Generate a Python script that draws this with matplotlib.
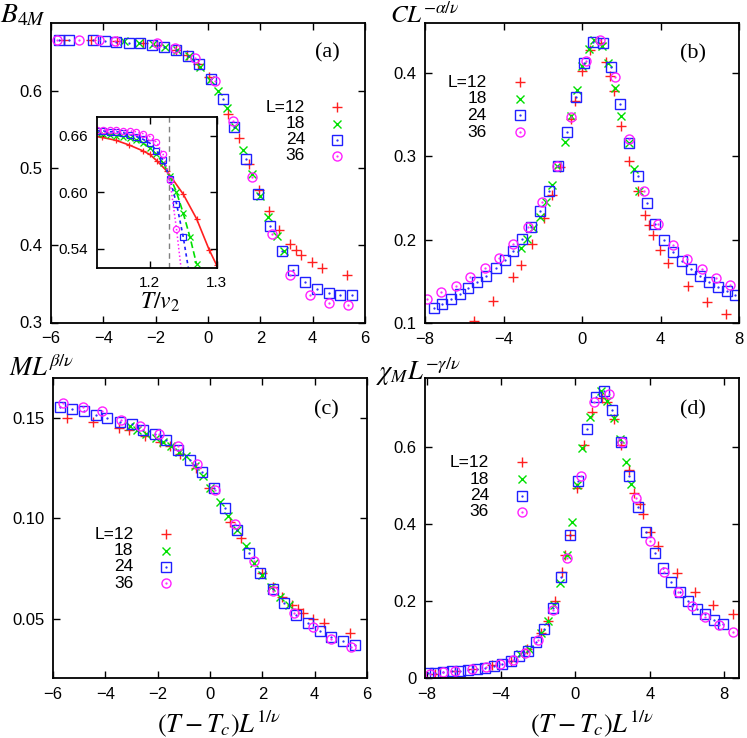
import matplotlib
matplotlib.use('Agg')
import matplotlib.pyplot as plt

plt.rcParams['mathtext.fontset'] = 'stix'
plt.rcParams['font.family'] = ['Liberation Sans', 'DejaVu Sans']

sizes = ['L=12', '18', '24', '36']
colors = ['#ff2020', '#00e000', '#2020ff', '#ff20ff']
markers = ['+', 'x', 's', 'o']
msizes = [7, 6, 7, 6.5]

# ---- panel (a): Binder cumulant vs scaled T
a12_x = [-5.50, -4.49, -3.47, -2.50, -1.94, -1.24, -0.80, -0.40, 0.02, 0.78, 1.19, 1.57, 1.96,
         2.33, 2.72, 3.13, 3.35, 3.55, 3.96, 4.34, 5.31]
a12_y = [0.665, 0.665, 0.664, 0.661, 0.659, 0.653, 0.646, 0.634, 0.618, 0.570, 0.539, 0.505, 0.472,
         0.444, 0.420, 0.402, 0.394, 0.387, 0.378, 0.371, 0.362]
a18_x = [-3.20, -2.65, -2.10, -1.63, -1.20, -0.74, -0.30, 0.08, 0.40, 0.72, 1.04, 1.35, 1.67,
         1.97, 2.29, 2.62, 2.92]
a18_y = [0.664, 0.662, 0.660, 0.656, 0.652, 0.645, 0.631, 0.614, 0.600, 0.577, 0.553, 0.523, 0.492,
         0.464, 0.436, 0.412, 0.393]
a24_x = [-5.70, -5.31, -4.40, -3.94, -3.51, -3.03, -2.58, -2.14, -1.70, -1.23, -0.77, -0.34, 0.10,
         0.56, 1.01, 1.47, 1.92, 2.37, 2.81, 3.26, 3.70, 4.17, 4.62, 5.06, 5.52]
a24_y = [0.665, 0.665, 0.665, 0.664, 0.663, 0.662, 0.661, 0.659, 0.656, 0.653, 0.645, 0.634, 0.615,
         0.589, 0.553, 0.511, 0.466, 0.425, 0.392, 0.368, 0.352, 0.343, 0.338, 0.336, 0.336]
a36_x = [-5.76, -4.93, -4.17, -3.54, -1.95, -1.25, -0.49, 0.25, 0.97, 1.67, 2.43, 3.15, 3.89,
         4.62, 5.35]
a36_y = [0.666, 0.665, 0.665, 0.664, 0.661, 0.655, 0.642, 0.612, 0.560, 0.488, 0.414, 0.361, 0.335,
         0.325, 0.322]

# inset of (a): B_4M vs T/v2
in12_t = [1.11, 1.129, 1.149, 1.169, 1.189, 1.200, 1.211, 1.226, 1.250, 1.270, 1.289, 1.300]
in12_b = [0.660, 0.658, 0.655, 0.650, 0.644, 0.640, 0.633, 0.622, 0.598, 0.572, 0.539, 0.523]
in18_t = [1.12, 1.13, 1.14, 1.15, 1.16, 1.17, 1.18, 1.19, 1.20, 1.21, 1.22, 1.23, 1.24, 1.25, 1.26, 1.27]
in18_b = [0.663, 0.662, 0.661, 0.660, 0.659, 0.657, 0.655, 0.652, 0.647, 0.640, 0.631, 0.617, 0.600,
          0.578, 0.553, 0.524]
in24_t = [1.12, 1.13, 1.14, 1.15, 1.16, 1.17, 1.18, 1.19, 1.20, 1.21, 1.22, 1.23, 1.24, 1.25, 1.26]
in24_b = [0.665, 0.665, 0.664, 0.664, 0.663, 0.661, 0.659, 0.656, 0.652, 0.644, 0.634, 0.614, 0.588,
          0.553, 0.510]
in36_t = [1.12, 1.13, 1.14, 1.15, 1.16, 1.17, 1.18, 1.19, 1.20, 1.21, 1.22, 1.23, 1.24, 1.25]
in36_b = [0.666, 0.666, 0.666, 0.666, 0.665, 0.665, 0.664, 0.662, 0.659, 0.653, 0.640, 0.613, 0.561,
          0.500]
Tc_v2 = 1.229

# ---- panel (b): specific heat
b12_x = [-5.50, -4.52, -3.51, -3.12, -2.56, -1.93, -1.54, -1.11, -0.57, -0.35, 0.02, 0.42, 0.96,
         1.22, 1.42, 1.61, 2.01, 2.41, 2.83, 3.21, 3.39, 3.60, 3.99, 4.38, 5.38, 6.35, 7.34]
b12_y = [0.103, 0.127, 0.156, 0.170, 0.195, 0.226, 0.254, 0.287, 0.345, 0.366, 0.403, 0.428, 0.436,
         0.413, 0.396, 0.378, 0.336, 0.295, 0.259, 0.230, 0.218, 0.206, 0.188, 0.172, 0.145, 0.125, 0.111]
b18_x = [-3.12, -2.78, -2.48, -2.15, -1.81, -1.51, -1.25, -0.87, -0.57, -0.23, 0.02, 0.37, 0.62,
         1.01, 1.35, 1.68, 1.98, 2.37, 2.66, 2.92]
b18_y = [0.190, 0.201, 0.214, 0.228, 0.245, 0.266, 0.289, 0.317, 0.348, 0.380, 0.409, 0.429, 0.440,
         0.433, 0.412, 0.382, 0.349, 0.316, 0.285, 0.259]
b24_x = [-7.54, -7.12, -6.66, -6.23, -5.79, -5.33, -4.87, -4.40, -3.94, -3.50, -3.04, -2.58, -2.13,
         -1.68, -1.23, -0.77, -0.31, 0.11, 0.57, 1.05, 1.50, 1.95, 2.41, 2.85, 3.29, 3.73, 4.19, 4.65,
         5.09, 5.55, 6.01, 6.45, 6.91, 7.37, 7.81]
b24_y = [0.118, 0.123, 0.129, 0.135, 0.142, 0.149, 0.157, 0.166, 0.176, 0.187, 0.201, 0.216, 0.235,
         0.259, 0.289, 0.329, 0.371, 0.412, 0.437, 0.436, 0.407, 0.363, 0.316, 0.276, 0.244, 0.219,
         0.200, 0.186, 0.175, 0.165, 0.157, 0.150, 0.144, 0.139, 0.134]
b36_x = [-7.88, -7.20, -6.44, -5.71, -4.96, -4.23, -3.50, -2.75, -2.02, -1.28, -0.54, 0.20, 0.93,
         1.69, 2.42, 3.15, 3.89, 4.62, 5.35, 6.10, 6.83, 7.56]
b36_y = [0.129, 0.137, 0.145, 0.155, 0.166, 0.178, 0.195, 0.216, 0.245, 0.288, 0.347, 0.414, 0.440,
         0.395, 0.321, 0.259, 0.219, 0.194, 0.177, 0.165, 0.154, 0.146]

# ---- panel (c): magnetisation
c12_x = [-5.48, -4.49, -3.49, -3.09, -2.50, -1.92, -1.54, -1.16, -0.53, -0.05, 0.78, 1.19, 1.97,
         2.39, 2.77, 3.15, 3.38, 3.56, 3.95, 4.34, 5.34]
c12_y = [0.150, 0.148, 0.145, 0.144, 0.141, 0.138, 0.136, 0.132, 0.125, 0.115, 0.098, 0.090, 0.073,
         0.066, 0.061, 0.057, 0.055, 0.053, 0.050, 0.048, 0.043]
c18_x = [-3.07, -2.79, -2.43, -2.08, -1.80, -1.48, -1.19, -0.91, -0.56, -0.25, 0.01, 0.40, 0.70,
         1.05, 1.38, 1.70, 2.00, 2.33, 2.69, 3.00]
c18_y = [0.146, 0.144, 0.142, 0.140, 0.138, 0.136, 0.133, 0.131, 0.126, 0.121, 0.115, 0.108, 0.101,
         0.094, 0.086, 0.078, 0.072, 0.066, 0.061, 0.057]
c24_x = [-5.73, -5.29, -4.82, -4.36, -3.92, -3.45, -3.00, -2.56, -2.11, -1.67, -1.23, -0.75, -0.31,
         0.14, 0.58, 1.04, 1.48, 1.92, 2.39, 2.84, 3.28, 3.75, 4.20, 4.64, 5.10, 5.54]
c24_y = [0.155, 0.154, 0.153, 0.151, 0.150, 0.148, 0.147, 0.144, 0.142, 0.139, 0.134, 0.129, 0.123,
         0.115, 0.105, 0.094, 0.083, 0.073, 0.065, 0.058, 0.052, 0.048, 0.044, 0.041, 0.039, 0.037]
c36_x = [-5.63, -4.87, -4.14, -3.42, -2.69, -1.96, -1.23, -0.49, 0.21, 0.96, 1.70, 2.42, 3.20,
         3.92, 4.64, 5.38]
c36_y = [0.157, 0.155, 0.153, 0.149, 0.146, 0.142, 0.136, 0.127, 0.114, 0.097, 0.079, 0.064, 0.053,
         0.046, 0.040, 0.036]

# ---- panel (d): susceptibility
d12_x = [-7.56, -6.48, -5.50, -4.50, -3.45, -2.61, -1.88, -1.49, -1.12, -0.73, -0.55, -0.32, 0.08,
         0.45, 0.89, 1.43, 1.70, 2.06, 2.45, 2.86, 3.13, 3.46, 3.62, 4.03, 4.43, 5.44, 6.43, 7.42, 8.47]
d12_y = [0.011, 0.018, 0.024, 0.034, 0.046, 0.077, 0.118, 0.148, 0.200, 0.276, 0.321, 0.373, 0.493,
         0.605, 0.692, 0.726, 0.718, 0.673, 0.605, 0.540, 0.480, 0.451, 0.425, 0.380, 0.343, 0.272,
         0.224, 0.191, 0.168]
d18_x = [-3.00, -2.52, -1.83, -1.47, -1.17, -0.84, -0.46, -0.21, 0.09, 0.35, 0.77, 1.39, 1.70,
         2.06, 2.39, 2.73, 3.01]
d18_y = [0.062, 0.077, 0.118, 0.148, 0.190, 0.246, 0.320, 0.406, 0.501, 0.598, 0.679, 0.745, 0.719,
         0.676, 0.621, 0.560, 0.504]
d24_x = [-7.96, -7.56, -7.11, -6.66, -6.21, -5.76, -5.31, -4.86, -4.38, -3.94, -3.48, -3.02, -2.56,
         -2.12, -1.67, -1.22, -0.77, -0.32, 0.15, 0.61, 1.09, 1.55, 1.99, 2.45, 2.89, 3.34, 3.81, 4.26,
         4.72, 5.15, 5.60, 6.05, 6.52, 6.98, 7.44, 7.92]
d24_y = [0.014, 0.015, 0.016, 0.018, 0.020, 0.022, 0.025, 0.028, 0.032, 0.038, 0.046, 0.057, 0.072,
         0.094, 0.129, 0.183, 0.263, 0.373, 0.512, 0.646, 0.731, 0.745, 0.695, 0.614, 0.525, 0.445,
         0.380, 0.325, 0.285, 0.250, 0.223, 0.201, 0.181, 0.166, 0.152, 0.141]
d36_x = [-7.83, -7.11, -6.47, -5.58, -4.80, -4.09, -3.39, -2.70, -2.04, -1.20, -0.44, 0.28, 1.02,
         1.79, 2.52, 3.28, 4.00, 4.76, 5.52, 6.25, 6.98, 7.71, 8.47]
d36_y = [0.011, 0.016, 0.019, 0.023, 0.029, 0.038, 0.047, 0.065, 0.099, 0.177, 0.312, 0.525, 0.718,
         0.737, 0.614, 0.468, 0.357, 0.276, 0.224, 0.188, 0.158, 0.138, 0.120]


W, H = 747, 738
fig = plt.figure(figsize=(W / 100, H / 100), dpi=100)


def box(l, t, r, b):
    return [l / W, 1 - b / H, (r - l) / W, (b - t) / H]


def style(ax, fs=12):
    ax.tick_params(direction='in', top=True, right=True, length=5, width=1,
                   labelsize=fs, pad=6)
    for s in ax.spines.values():
        s.set_linewidth(1.3)


def scatter_sets(ax, xs, ys, ms_scale=1.0):
    for i, (x, y) in enumerate(zip(xs, ys)):
        ax.plot(x, y, ls='none', marker=markers[i], ms=msizes[i] * ms_scale,
                mfc='none', mec=colors[i], mew=1.0, clip_on=True)
        if markers[i] in ('s', 'o'):
            ax.plot(x, y, ls='none', marker='.', ms=1.2, color=colors[i])


def legend(ax, xt, xm, ys):
    for i in range(4):
        ax.text(xt, ys[i], sizes[i], transform=ax.transAxes, ha='right', va='center', fontsize=12.5)
        ax.plot([xm], [ys[i]], transform=ax.transAxes, ls='none', marker=markers[i],
                ms=msizes[i], mfc='none', mec=colors[i], mew=1.0)
        if markers[i] in ('s', 'o'):
            ax.plot([xm], [ys[i]], transform=ax.transAxes, ls='none', marker='.', ms=1.2,
                    color=colors[i])


def panel_label(ax, s, x, y):
    ax.text(x, y, s, transform=ax.transAxes, ha='center', va='center', fontsize=16,
            family='Liberation Serif')


# (a)
axa = fig.add_axes(box(51, 22.5, 365, 322.5))
scatter_sets(axa, [a12_x, a18_x, a24_x, a36_x], [a12_y, a18_y, a24_y, a36_y])
axa.set_xlim(-6, 6)
axa.set_ylim(0.3, 0.688)
axa.set_xticks([-6, -4, -2, 0, 2, 4, 6])
axa.set_yticks([0.3, 0.4, 0.5, 0.6])
axa.set_yticklabels(['0.3', '0.4', '0.5', '0.6'])
style(axa)
legend(axa, 0.809, 0.911, [0.718, 0.663, 0.609, 0.555])
panel_label(axa, '(a)', 0.879, 0.898)
fig.text(23 / W, 1 - 15 / H, r'$B_{4M}$', ha='center', va='center', fontsize=20)

# inset
axi = fig.add_axes(box(96.5, 116.7, 216.5, 267.7))
axi.axvline(Tc_v2, color='#808080', lw=1, ls=(0, (4, 3)))
axi.plot(in12_t, in12_b, color=colors[0], lw=1.2, marker='+', ms=5, mew=0.9)
axi.plot(in18_t, in18_b, color=colors[1], lw=1.2, ls=(0, (4, 2)), marker='x', ms=4, mew=0.9)
axi.plot(in24_t, in24_b, color=colors[2], lw=1.2, ls=(0, (2, 2)), marker='s', ms=4.5, mfc='none', mew=0.9)
axi.plot(in36_t, in36_b, color=colors[3], lw=1.1, ls=(0, (1, 1.5)), marker='o', ms=4.5, mfc='none', mew=0.9)
axi.set_xlim(1.12, 1.30)
axi.set_ylim(0.52, 0.68)
axi.set_xticks([1.2, 1.3])
axi.set_yticks([0.54, 0.60, 0.66])
axi.set_yticklabels(['0.54', '0.60', '0.66'])
style(axi, fs=11)
axi.tick_params(pad=6)
fig.text(160 / W, 1 - 302 / H, r'$T/v_2$', ha='center', va='center', fontsize=17)

# (b)
axb = fig.add_axes(box(425, 23, 739, 323.3))
scatter_sets(axb, [b12_x, b18_x, b24_x, b36_x], [b12_y, b18_y, b24_y, b36_y])
axb.set_xlim(-8, 8)
axb.set_ylim(0.1, 0.46)
axb.set_xticks([-8, -4, 0, 4, 8])
axb.set_yticks([0.1, 0.2, 0.3, 0.4])
style(axb)
legend(axb, 0.197, 0.303, [0.803, 0.748, 0.693, 0.637])
panel_label(axb, '(b)', 0.853, 0.897)
fig.text(425 / W, 1 - 15 / H, r'$CL^{-\alpha/\nu}$', ha='center', va='center', fontsize=18)

# (c)
axc = fig.add_axes(box(53, 378, 367, 678.3))
scatter_sets(axc, [c12_x, c18_x, c24_x, c36_x], [c12_y, c18_y, c24_y, c36_y])
axc.set_xlim(-6, 6)
axc.set_ylim(0.0206, 0.1696)
axc.set_xticks([-6, -4, -2, 0, 2, 4, 6])
axc.set_yticks([0.05, 0.10, 0.15])
axc.set_yticklabels(['0.05', '0.10', '0.15'])
style(axc)
legend(axc, 0.256, 0.360, [0.479, 0.424, 0.371, 0.316])
panel_label(axc, '(c)', 0.872, 0.893)
fig.text(42 / W, 1 - 368 / H, r'$ML^{\beta/\nu}$', ha='center', va='center', fontsize=19)
fig.text(219 / W, 1 - 724 / H, r'$(T-T_c)L^{1/\nu}$', ha='center', va='center', fontsize=19)

# (d)
axd = fig.add_axes(box(425, 378, 739, 678.3))
scatter_sets(axd, [d12_x, d18_x, d24_x, d36_x], [d12_y, d18_y, d24_y, d36_y])
axd.set_xlim(-8.1, 8.8)
axd.set_ylim(0, 0.779)
axd.set_xticks([-8, -4, 0, 4, 8])
axd.set_yticks([0, 0.2, 0.4, 0.6])
axd.set_yticklabels(['0', '0.2', '0.4', '0.6'])
style(axd)
legend(axd, 0.204, 0.308, [0.719, 0.663, 0.608, 0.554])
panel_label(axd, '(d)', 0.853, 0.893)
fig.text(418 / W, 1 - 372 / H, r'$\chi_M L^{-\gamma/\nu}$', ha='center', va='center', fontsize=19)
fig.text(592 / W, 1 - 724 / H, r'$(T-T_c)L^{1/\nu}$', ha='center', va='center', fontsize=19)

fig.savefig('out.png', dpi=100)
